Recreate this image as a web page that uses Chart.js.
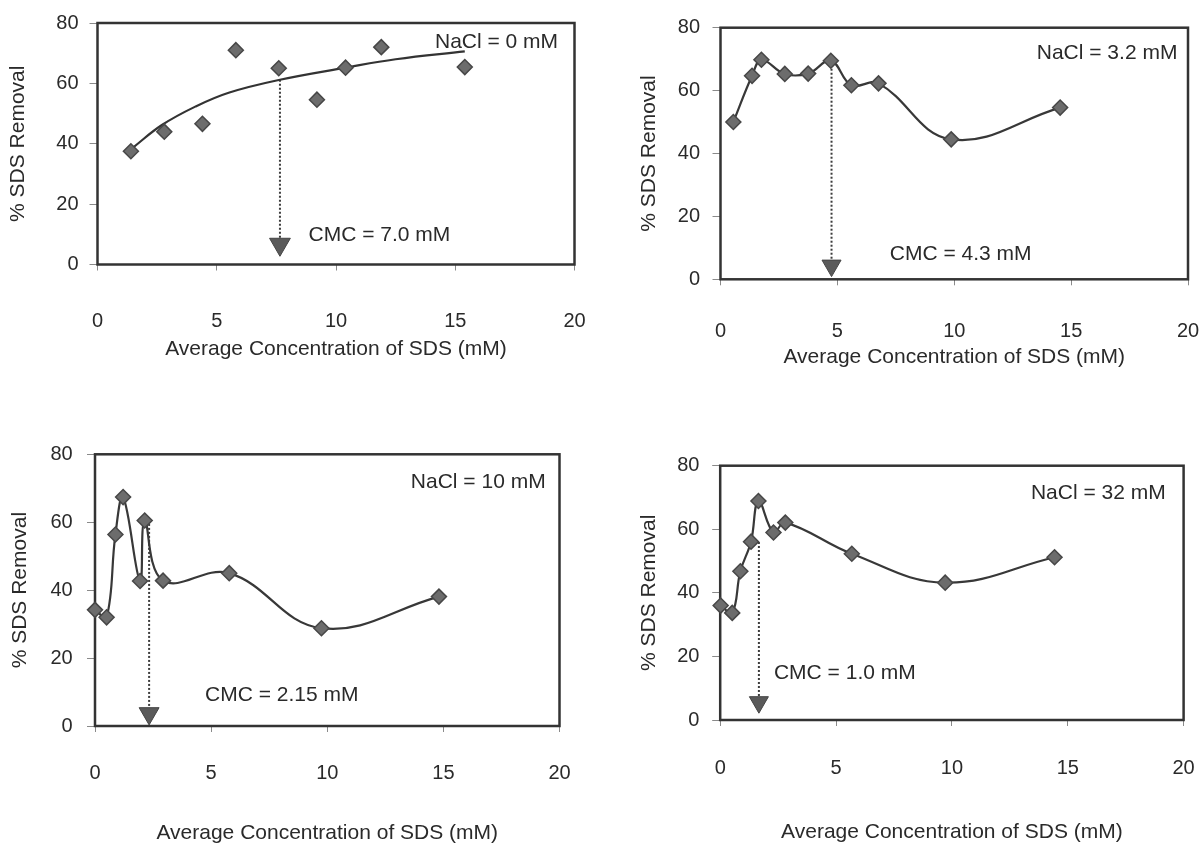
<!DOCTYPE html>
<html><head><meta charset="utf-8">
<script src="https://cdn.jsdelivr.net/npm/chart.js@4.4.1/dist/chart.umd.min.js"></script>
<style>
html,body{margin:0;padding:0;background:#fff;width:1204px;height:843px;overflow:hidden;position:relative}
canvas{position:absolute;display:block}
</style></head><body>
<canvas id="c1"></canvas><canvas id="c2"></canvas><canvas id="c3"></canvas><canvas id="c4"></canvas>
<script>
// ---- data ----
const xTicks = [0, 5, 10, 15, 20];
const yTicks = [0, 20, 40, 60, 80];
const xTitle = 'Average Concentration of SDS (mM)';
const yTitle = '% SDS Removal';

const p1X = [1.4, 2.8, 4.4, 5.8, 7.6, 9.2, 10.4, 11.9, 15.4];
const p1Y = [37.5, 44.0, 46.6, 71.0, 65.0, 54.6, 65.2, 72.0, 65.4];
const p1TrendX = [1.45, 2.7, 4.1, 5.5, 7.65, 10.4, 12.5, 15.4];
const p1TrendY = [38.5, 46.2, 52.3, 56.9, 61.2, 65.2, 68.0, 70.6];

const p2X = [0.55, 1.35, 1.75, 2.75, 3.75, 4.72, 5.6, 6.76, 9.87, 14.53];
const p2Y = [50.0, 64.7, 69.8, 65.3, 65.4, 69.5, 61.7, 62.3, 44.5, 54.6];

const p3X = [0, 0.5, 0.88, 1.21, 1.94, 2.14, 2.93, 5.78, 9.75, 14.81];
const p3Y = [34.2, 32.0, 56.4, 67.4, 42.7, 60.5, 42.8, 45.0, 28.8, 38.1];

const p4X = [0.02, 0.52, 0.87, 1.33, 1.65, 2.3, 2.81, 5.68, 9.71, 14.43];
const p4Y = [36.0, 33.7, 46.8, 56.1, 68.9, 59.0, 62.1, 52.3, 43.2, 51.2];

const naclLabels = ['NaCl = 0 mM', 'NaCl = 3.2 mM', 'NaCl = 10 mM', 'NaCl = 32 mM'];
const cmcLabels = ['CMC = 7.0 mM', 'CMC = 4.3 mM', 'CMC = 2.15 mM', 'CMC = 1.0 mM'];
const cmcX = [7.65, 4.75, 2.33, 1.67];
const cmcFromY = [61.2, 69.5, 59.5, 56.0];
const cmcHeadY = [6.7, 4.35, 3.7, 5.6];

// ---- layout (pixels) ----
const layout = [
  {L:0,   T:0,   W:602, H:363, cl:97.5,  cr:574.5,  ct:23,    cb:264.5, yTickRight:78.5,  yTitleX:18.5, xTickY:321,   xTitleY:349, nacl:[14.15,73.6], cmc:[8.85,9.8],  head:12},
  {L:602, T:0,   W:602, H:371, cl:720.5, cr:1188,   ct:27.7,  cb:279.3, yTickRight:700,   yTitleX:649,  xTickY:331.7, xTitleY:357, nacl:[13.53,71.9], cmc:[7.24,8.0],  head:11},
  {L:0,   T:380, W:602, H:467, cl:95,    cr:559.5,  ct:454.3, cb:726,   yTickRight:72.7,  yTitleX:20,   xTickY:773,   xTitleY:833, nacl:[13.6,71.9],  cmc:[4.74,9.1],  head:11.5},
  {L:602, T:380, W:602, H:466, cl:720.2, cr:1183.6, ct:465.7, cb:720,   yTickRight:699.4, yTitleX:649,  xTickY:768,   xTitleY:832, nacl:[13.41,71.5], cmc:[2.32,14.8], head:11}
];

Chart.defaults.font.family = '"Liberation Sans", Arial, Helvetica, sans-serif';
Chart.defaults.color = '#2a2a2a';

const TICK_FONT = 20, TITLE_FONT = 21, NOTE_FONT = 21;
const TL_X = 6, TL_Y = 8;
const INK = '#2a2a2a';

function pts(xs, ys) { return xs.map((x, j) => ({x: x, y: ys[j]})); }

function zeroPad(s) { s.paddingLeft = 0; s.paddingRight = 0; s.paddingTop = 0; s.paddingBottom = 0; }

function makePanel(i, xs, ys, showLine, trend) {
  const cfg = layout[i];
  const cv = document.getElementById('c' + (i + 1));
  cv.width = cfg.W; cv.height = cfg.H;
  cv.style.left = cfg.L + 'px'; cv.style.top = cfg.T + 'px';
  cv.style.width = cfg.W + 'px'; cv.style.height = cfg.H + 'px';

  const tickLH = TICK_FONT * 1.2, titleLH = TITLE_FONT * 1.2;
  const xTickPad = cfg.xTickY - cfg.cb - TL_X - tickLH / 2;
  const yTickPad = cfg.cl - cfg.yTickRight - TL_Y;
  const xTitlePB = cfg.T + cfg.H - cfg.xTitleY - titleLH / 2;
  const yTitlePT = cfg.yTitleX - cfg.L - titleLH / 2;

  const datasets = [];
  datasets.push({
    data: pts(xs, ys), showLine: showLine, borderColor: '#383838', borderWidth: 2.2,
    tension: 0.4, pointStyle: 'rectRot', pointRadius: 7.5,
    pointBackgroundColor: '#6c6c6c', pointBorderColor: '#474747', pointBorderWidth: 1.5, clip: false
  });
  if (trend) {
    datasets.push({
      data: pts(trend[0], trend[1]), borderColor: '#333', borderWidth: 2.2,
      tension: 0.4, pointRadius: 0, clip: false
    });
  }
  datasets.push({
    data: [{x: cmcX[i], y: cmcHeadY[i]}], showLine: false, pointStyle: 'triangle',
    rotation: 180, pointRadius: cfg.head, pointBackgroundColor: '#5a5a5a',
    pointBorderColor: '#444', pointBorderWidth: 1, clip: false
  });
  datasets.push({
    data: [{x: cmcX[i], y: cmcFromY[i]}, {x: cmcX[i], y: cmcHeadY[i]}],
    borderColor: '#3c3c3c', borderWidth: 2, borderDash: [2, 2], pointRadius: 0, tension: 0, clip: false
  });

  const decor = {
    id: 'decor' + i,
    beforeDatasetsDraw(chart) {
      const a = chart.chartArea, ctx = chart.ctx;
      ctx.save();
      ctx.strokeStyle = '#333';
      ctx.lineWidth = 2.5;
      ctx.strokeRect(a.left, a.top, a.right - a.left, a.bottom - a.top);
      ctx.restore();
    },
    afterDraw(chart) {
      const ctx = chart.ctx, sx = chart.scales.x, sy = chart.scales.y;
      ctx.save();
      ctx.fillStyle = INK;
      ctx.font = NOTE_FONT + 'px "Liberation Sans", Arial, sans-serif';
      ctx.textAlign = 'left';
      ctx.textBaseline = 'middle';
      ctx.fillText(naclLabels[i], sx.getPixelForValue(cfg.nacl[0]), sy.getPixelForValue(cfg.nacl[1]));
      ctx.fillText(cmcLabels[i], sx.getPixelForValue(cfg.cmc[0]), sy.getPixelForValue(cfg.cmc[1]));
      ctx.restore();
    }
  };

  new Chart(cv, {
    type: 'line',
    data: {datasets: datasets},
    options: {
      responsive: false, animation: false, devicePixelRatio: 1,
      layout: {padding: {top: cfg.ct - cfg.T, right: cfg.L + cfg.W - cfg.cr, left: 0, bottom: 0}},
      plugins: {legend: {display: false}, tooltip: {enabled: false}},
      scales: {
        x: {
          type: 'linear', position: 'bottom', min: 0, max: 20,
          afterBuildTicks: s => { s.ticks = xTicks.map(v => ({value: v})); },
          afterFit: s => { s.height = cfg.T + cfg.H - cfg.cb; zeroPad(s); },
          grid: {display: true, drawOnChartArea: false, drawTicks: true, tickLength: TL_X, color: '#8a8a8a', lineWidth: 1},
          border: {display: false},
          ticks: {padding: xTickPad, font: {size: TICK_FONT}, color: INK, maxRotation: 0, autoSkip: false},
          title: {display: true, text: xTitle, font: {size: TITLE_FONT}, color: INK, padding: {top: 0, bottom: xTitlePB}}
        },
        y: {
          type: 'linear', position: 'left', min: 0, max: 80,
          afterBuildTicks: s => { s.ticks = yTicks.map(v => ({value: v})); },
          afterFit: s => { s.width = cfg.cl - cfg.L; zeroPad(s); },
          grid: {display: true, drawOnChartArea: false, drawTicks: true, tickLength: TL_Y, color: '#8a8a8a', lineWidth: 1},
          border: {display: false},
          ticks: {padding: yTickPad, font: {size: TICK_FONT}, color: INK},
          title: {display: true, text: yTitle, font: {size: TITLE_FONT}, color: INK, padding: {top: yTitlePT, bottom: 0}}
        }
      }
    },
    plugins: [decor]
  });
}

makePanel(0, p1X, p1Y, false, [p1TrendX, p1TrendY]);
makePanel(1, p2X, p2Y, true, null);
makePanel(2, p3X, p3Y, true, null);
makePanel(3, p4X, p4Y, true, null);
</script>
</body></html>
